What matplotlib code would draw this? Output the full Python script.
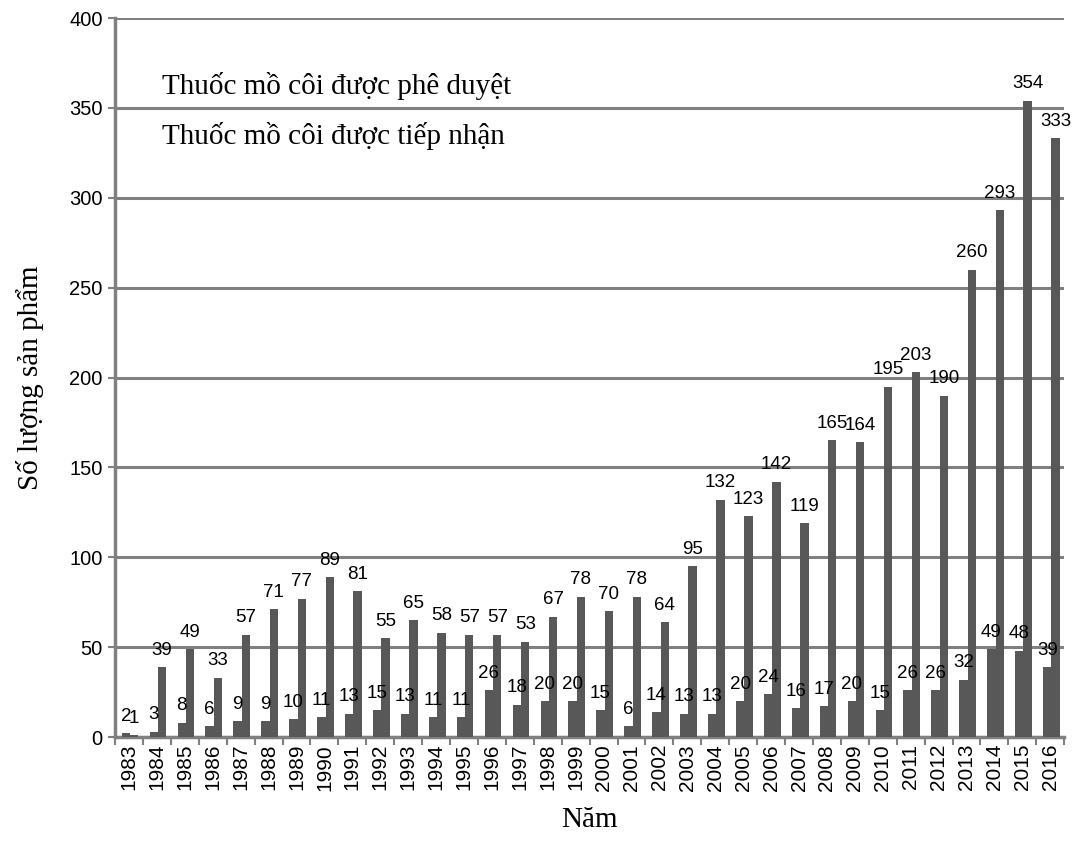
import numpy as np
import matplotlib
matplotlib.use("Agg")
import matplotlib.pyplot as plt

# so lieu doc tu hinh goc
years = list(range(1983, 2017))
approved = [2, 3, 8, 6, 9, 9, 10, 11, 13, 15, 13, 11, 11, 26, 18, 20, 20, 15, 6, 14,
            13, 13, 20, 24, 16, 17, 20, 15, 26, 26, 32, 49, 48, 39]
received = [1, 39, 49, 33, 57, 71, 77, 89, 81, 55, 65, 58, 57, 57, 53, 67, 78, 70, 78, 64,
            95, 132, 123, 142, 119, 165, 164, 195, 203, 190, 260, 293, 354, 333]
yticks = [0, 50, 100, 150, 200, 250, 300, 350, 400]

label_approved = "Thuốc mồ côi được phê duyệt"
label_received = "Thuốc mồ côi được tiếp nhận"

plt.rcParams['font.family'] = ['Liberation Sans', 'DejaVu Sans']
serif = ['Liberation Serif', 'DejaVu Serif']

bar_color = '#585858'
grid_color = '#808080'

fig = plt.figure(figsize=(10.75, 8.43), dpi=100)
ax = fig.add_axes([0.107, 0.1257, 0.883, 0.8529])

x = np.arange(len(years))
w = 0.3
b1 = ax.bar(x - 0.11, approved, width=w, color=bar_color, label=label_approved, zorder=3)
b2 = ax.bar(x + 0.19, received, width=w, color=bar_color, label=label_received, zorder=3)

for rect, v in zip(b1, approved):
    ax.annotate(str(v), (rect.get_x() + rect.get_width() / 2, v), xytext=(0, 6),
                textcoords='offset points', ha='center', va='bottom', fontsize=13.5)
for rect, v in zip(b2, received):
    ax.annotate(str(v), (rect.get_x() + rect.get_width() / 2, v), xytext=(0, 6),
                textcoords='offset points', ha='center', va='bottom', fontsize=13.5)

ax.set_xlim(-0.5, len(years) - 0.5)
ax.set_ylim(0, 400)
ax.set_yticks(yticks)
ax.yaxis.grid(True, color=grid_color, linewidth=2.2)
ax.set_axisbelow(True)

# ticks between groups, labels at centers
ax.set_xticks(np.arange(len(years) + 1) - 0.5)
ax.set_xticklabels([])
ax.set_xticks(x, minor=True)
ax.set_xticklabels([str(y) for y in years], minor=True, rotation=90, fontsize=15)
ax.tick_params(axis='x', which='major', length=6, width=1.5, color=grid_color)
ax.tick_params(axis='x', which='minor', length=0, pad=5)
ax.tick_params(axis='y', length=5, width=1.5, color=grid_color, labelsize=14.5, pad=4)

for s in ['top', 'right']:
    ax.spines[s].set_visible(False)
ax.spines['left'].set_color(grid_color)
ax.spines['left'].set_linewidth(2.5)
ax.spines['bottom'].set_color(grid_color)
ax.spines['bottom'].set_linewidth(2.5)

ax.set_ylabel("Số lượng sản phẩm", family=serif, fontsize=21, labelpad=18)
ax.set_xlabel("Năm", family=serif, fontsize=21, labelpad=12)

leg = ax.legend(loc='upper left', bbox_to_anchor=(0.037, 0.941), frameon=False,
                prop={'family': serif, 'size': 21}, handlelength=0, handletextpad=0,
                labelspacing=0.75, borderaxespad=0)
for h in leg.legend_handles:
    h.set_visible(False)

fig.savefig("out.png", dpi=100)
